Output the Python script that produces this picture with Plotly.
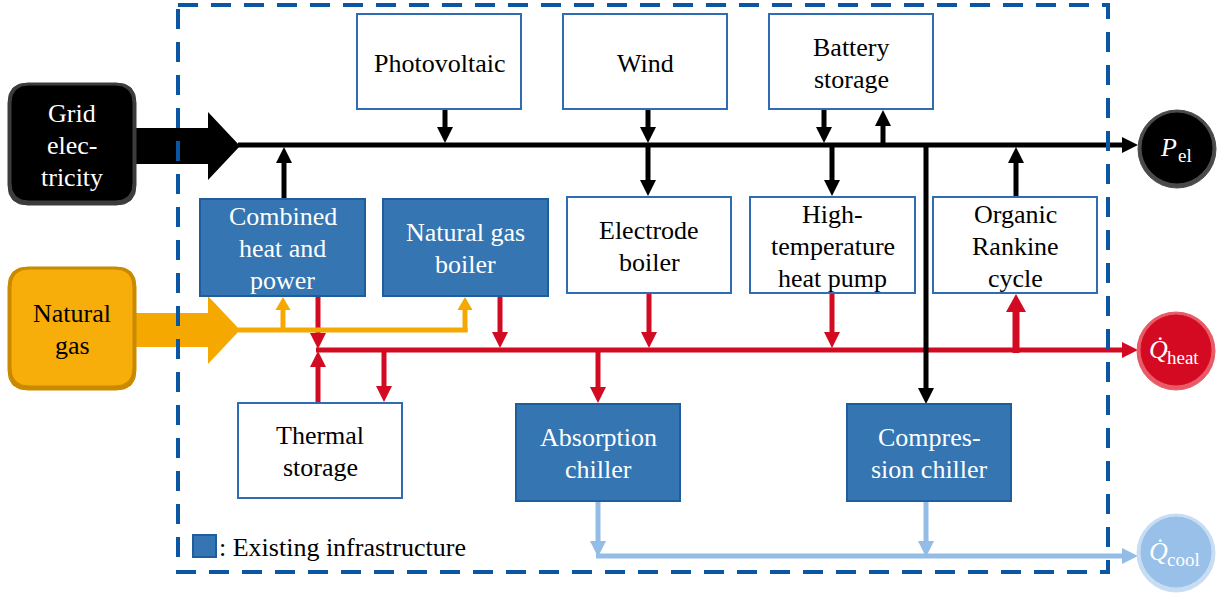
import math
import plotly.graph_objects as go

W, H = 1228, 593
FONT = "'Liberation Serif', 'Times New Roman', Tinos, 'DejaVu Serif', serif"
FS = 26
LINE_GAP = 32

# ---------------- content (labels) ----------------
top_labels = [["Photovoltaic"], ["Wind"], ["Battery", "storage"]]
mid_labels = [["Combined", "heat and", "power"], ["Natural gas", "boiler"],
              ["Electrode", "boiler"], ["High-", "temperature", "heat pump"],
              ["Organic", "Rankine", "cycle"]]
bottom_labels = [["Thermal", "storage"], ["Absorption", "chiller"], ["Compres-", "sion chiller"]]
mid_existing = [True, True, False, False, False]
bottom_existing = [False, True, True]
source_labels = [["Grid", "elec-", "tricity"], ["Natural", "gas"]]
sink_symbols = ["P", "Q̇", "Q̇"]
sink_subscripts = ["el", "heat", "cool"]
legend_text = ": Existing infrastructure"

# ---------------- geometry ----------------
top_boxes = [(357, 14, 521, 109), (563, 14, 727, 109), (769, 14, 933, 109)]
mid_boxes = [(200, 199, 365, 296), (383, 199, 548, 296), (567, 197, 731, 293),
             (750, 197, 915, 293), (933, 197, 1097, 293)]
bottom_boxes = [(238, 403, 402, 498), (516, 404, 680, 501), (847, 404, 1011, 501)]
source_boxes = [(8, 83, 136, 205), (8, 267, 136, 390)]
sink_circles = [(1177, 149, 39), (1176, 351, 39), (1176, 553, 39)]

BLUE_FILL = "#3475B2"
BLUE_EDGE = "#1F5E9E"
BOX_EDGE = "#2E6DB4"
DASH_BLUE = "#0B56A3"
BLACK = "#000000"
RED = "#D20A22"
ORANGE = "#F5A800"
LIGHTBLUE = "#93BCE6"

shapes = []
annotations = []


def add_rect(x0, y0, x1, y1, fill, edge, w=2):
    shapes.append(dict(type="rect", x0=x0, y0=y0, x1=x1, y1=y1, xref="x", yref="y",
                       fillcolor=fill, line=dict(color=edge, width=w), layer="above"))


def add_line(x0, y0, x1, y1, color, w):
    shapes.append(dict(type="line", x0=x0, y0=y0, x1=x1, y1=y1, xref="x", yref="y",
                       line=dict(color=color, width=w), layer="above"))


def add_poly(pts, color, edge=None, ew=0):
    path = "M " + " L ".join(f"{x},{y}" for x, y in pts) + " Z"
    shapes.append(dict(type="path", path=path, xref="x", yref="y", fillcolor=color,
                       line=dict(color=edge or color, width=ew), layer="above"))


def arrow(x0, y0, x1, y1, color, lw=5, hl=16, hw=16):
    dx, dy = x1 - x0, y1 - y0
    L = math.hypot(dx, dy)
    ux, uy = dx / L, dy / L
    bx, by = x1 - ux * hl, y1 - uy * hl
    add_line(x0, y0, bx + ux * 1.5, by + uy * 1.5, color, lw)
    add_poly([(x1, y1), (bx - uy * hw / 2, by + ux * hw / 2), (bx + uy * hw / 2, by - ux * hw / 2)], color)


def add_text(x, y, t, color, size=FS, anchor="center", italic=False):
    annotations.append(dict(x=x, y=y, xref="x", yref="y", text=t, showarrow=False,
                            xanchor=anchor, yanchor="middle",
                            font=dict(family=FONT, size=size, color=color,
                                      style="italic" if italic else "normal")))


def add_text_lines(cx, cy, lines, color, size=FS):
    n = len(lines)
    for i, t in enumerate(lines):
        add_text(cx, cy + (i - (n - 1) / 2) * LINE_GAP, t, color, size)


def rounded(x0, y0, x1, y1, r):
    return (f"M {x0 + r},{y0} L {x1 - r},{y0} Q {x1},{y0} {x1},{y0 + r} "
            f"L {x1},{y1 - r} Q {x1},{y1} {x1 - r},{y1} L {x0 + r},{y1} "
            f"Q {x0},{y1} {x0},{y1 - r} L {x0},{y0 + r} Q {x0},{y0} {x0 + r},{y0} Z")


# ---------------- lines & arrows ----------------
# heat bus (red)
arrow(316, 350, 1138, 350, RED, 5, 16, 16)
arrow(318, 296, 318, 349, RED)
arrow(318, 403, 318, 351, RED)
arrow(384, 350, 384, 402, RED)
arrow(500, 296, 500, 348, RED)
arrow(649, 293, 649, 348, RED)
arrow(832, 293, 832, 348, RED)
arrow(598, 350, 598, 403, RED)
arrow(1016, 353, 1016, 294, RED, 7, 18, 20)

# cooling bus (light blue)
arrow(596, 556, 1138, 556, LIGHTBLUE, 5, 16, 16)
arrow(598, 501, 598, 557, LIGHTBLUE)
arrow(926, 501, 926, 557, LIGHTBLUE)

# natural gas (orange)
add_line(238, 330, 467.5, 330, ORANGE, 5)
arrow(283, 330, 283, 297, ORANGE, 5, 13, 15)
arrow(465, 332, 465, 297, ORANGE, 5, 13, 15)

# electricity bus (black)
arrow(238, 145, 1138, 145, BLACK, 5, 16, 16)
arrow(284, 199, 284, 147, BLACK)
arrow(445, 109, 445, 143, BLACK)
arrow(648, 109, 648, 143, BLACK)
arrow(648, 145, 648, 196, BLACK)
arrow(824, 108, 824, 143, BLACK)
arrow(883, 147, 883, 110, BLACK)
arrow(832, 145, 832, 196, BLACK)
arrow(1016, 197, 1016, 147, BLACK)
arrow(926, 143, 926, 404, BLACK)

# big source arrows
add_poly([(130, 128), (208, 128), (208, 112), (240, 146), (208, 180), (208, 164), (130, 164)], BLACK)
add_poly([(130, 313), (208, 313), (208, 296), (240, 330), (208, 364), (208, 347), (130, 347)], ORANGE)

# dashed system boundary
shapes.append(dict(type="rect", x0=178, y0=5, x1=1108, y1=572, xref="x", yref="y",
                   fillcolor="rgba(0,0,0,0)", line=dict(color=DASH_BLUE, width=4, dash="20px,13px"),
                   layer="above"))

# ---------------- boxes ----------------
for (x0, y0, x1, y1), lab in zip(top_boxes, top_labels):
    add_rect(x0, y0, x1, y1, "white", BOX_EDGE)
    add_text_lines((x0 + x1) / 2, (y0 + y1) / 2 + 2, lab, "black")

for (x0, y0, x1, y1), lab, ex in zip(mid_boxes, mid_labels, mid_existing):
    add_rect(x0, y0, x1, y1, BLUE_FILL if ex else "white", BLUE_EDGE if ex else BOX_EDGE)
    add_text_lines((x0 + x1) / 2, (y0 + y1) / 2 + 1, lab, "white" if ex else "black")

for (x0, y0, x1, y1), lab, ex in zip(bottom_boxes, bottom_labels, bottom_existing):
    add_rect(x0, y0, x1, y1, BLUE_FILL if ex else "white", BLUE_EDGE if ex else BOX_EDGE)
    add_text_lines((x0 + x1) / 2, (y0 + y1) / 2 + 1, lab, "white" if ex else "black")

# source rounded boxes (with bevel rim)
src_styles = [("#3C3C3C", "#000000", "white"), ("#C98A00", "#F7AE0A", "black")]
for (x0, y0, x1, y1), lab, (rim, fill, tc) in zip(source_boxes, source_labels, src_styles):
    shapes.append(dict(type="path", path=rounded(x0, y0, x1, y1, 20), xref="x", yref="y",
                       fillcolor=rim, line=dict(color=rim, width=1), layer="above"))
    shapes.append(dict(type="path", path=rounded(x0 + 4, y0 + 3, x1 - 4, y1 - 5, 17), xref="x", yref="y",
                       fillcolor=fill, line=dict(color=fill, width=1), layer="above"))
    add_text_lines((x0 + x1) / 2, (y0 + y1) / 2 + 1, lab, tc)

# sink circles
sink_styles = [("#4A4A4A", "#000000"), ("#E85A66", "#D40A22"), ("#C7DDF3", "#98C0E8")]
for (cx, cy, r), sym, sub, (rim, fill) in zip(sink_circles, sink_symbols, sink_subscripts, sink_styles):
    shapes.append(dict(type="circle", x0=cx - r, y0=cy - r, x1=cx + r, y1=cy + r, xref="x", yref="y",
                       fillcolor=rim, line=dict(color=rim, width=1), layer="above"))
    shapes.append(dict(type="circle", x0=cx - r + 4, y0=cy - r + 3, x1=cx + r - 4, y1=cy + r - 5,
                       xref="x", yref="y", fillcolor=fill, line=dict(color=fill, width=1), layer="above"))
    sub_w = 10.5 * len(sub)
    sym_w = 17
    left = cx - (sym_w + sub_w) / 2
    annotations.append(dict(x=left, y=cy - 2, xref="x", yref="y", text=sym, showarrow=False,
                            xanchor="left", yanchor="middle",
                            font=dict(family=FONT, size=26, color="white", style="italic")))
    annotations.append(dict(x=left + sym_w + 1, y=cy + 6, xref="x", yref="y", text=sub, showarrow=False,
                            xanchor="left", yanchor="middle",
                            font=dict(family=FONT, size=19, color="white")))

# legend
add_rect(193, 535, 216, 557, BLUE_FILL, BLUE_EDGE)
add_text(217, 547, legend_text, "black", FS, anchor="left")

fig = go.Figure()
fig.update_layout(
    width=W, height=H, margin=dict(l=0, r=0, t=0, b=0),
    paper_bgcolor="white", plot_bgcolor="white",
    xaxis=dict(range=[0, W], visible=False, fixedrange=True),
    yaxis=dict(range=[H, 0], visible=False, fixedrange=True),
    shapes=shapes, annotations=annotations, showlegend=False,
)
fig.write_html("out.html", config=dict(displayModeBar=False),
               post_script="document.body.style.margin='0';document.body.style.overflow='hidden';")
